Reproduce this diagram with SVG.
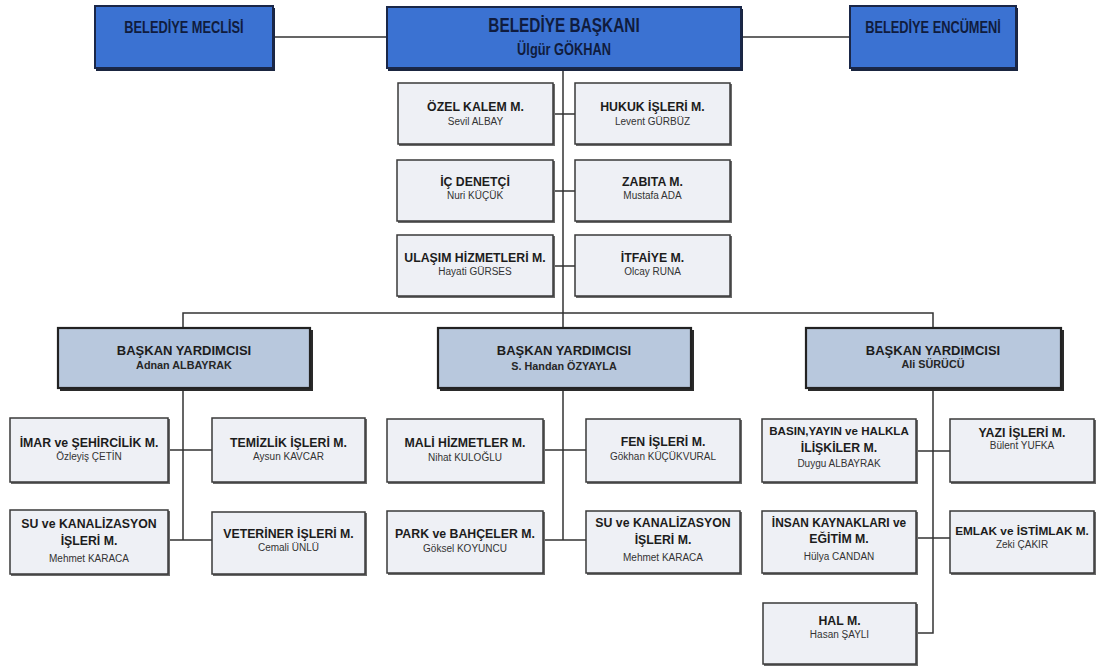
<svg xmlns="http://www.w3.org/2000/svg" width="1100" height="667" viewBox="0 0 1100 667">
<style>
text{font-family:"Liberation Sans",Arial,sans-serif;text-anchor:middle}
.top{fill:#3b72d2;stroke:#1a2748;stroke-width:2}
.topsh{fill:#1a2540}
.vp{fill:#b8c8dd;stroke:#222;stroke-width:2.2}
.vpsh{fill:#2a2a2a}
.st{fill:#eef0f5;stroke:#3a3a3a;stroke-width:1.5}
.stsh{fill:#6a6a6a}
.tt{font-weight:bold;font-size:12.8px;fill:#101c3e}
.tn{font-weight:bold;font-size:12.8px;fill:#101c3e}
.h{font-weight:bold;font-size:12.3px;fill:#1c1c1c}
.n{font-size:10px;fill:#333}
.vh{font-weight:bold;font-size:13px;fill:#1c1c1c}
.vn{font-weight:bold;font-size:10.8px;fill:#262626}
.c{fill:none;stroke:#333;stroke-width:1.5}
</style>
<g id="connectors">
<path class="c" d="M273 37H387M741 37H850"/>
<path class="c" d="M563 68V313M553 114H575M553 191H575M553 266H575"/>
<path class="c" d="M183 328V313H933V328M563 313V328"/>
<path class="c" d="M183 388V540M168 450H212M168 540H212"/>
<path class="c" d="M563 388V540M543 450H586M543 540H586"/>
<path class="c" d="M933 388V633H916M916 451H950M916 538H950"/>
</g>
<g id="meclis">
<rect class="topsh" x="96" y="8" width="179" height="63"/>
<rect class="top" x="95" y="6" width="178" height="62"/>
<text class="tt" transform="translate(184,33) scale(1,1.3)">BELEDİYE MECLİSİ</text>
</g>
<g id="baskan">
<rect class="topsh" x="388" y="9" width="355" height="62"/>
<rect class="top" x="387" y="7" width="354" height="61"/>
<text class="tt" style="font-size:15.4px" transform="translate(564,32) scale(1,1.3)">BELEDİYE BAŞKANI</text>
<text class="tn" transform="translate(564,55) scale(1,1.3)">Ülgür GÖKHAN</text>
</g>
<g id="encumen">
<rect class="topsh" x="851" y="8" width="167" height="63"/>
<rect class="top" x="850" y="6" width="166" height="62"/>
<text class="tt" transform="translate(933,33) scale(1,1.3)">BELEDİYE ENCÜMENİ</text>
</g>
<g id="ozel-kalem">
<rect class="stsh" x="399" y="84" width="156" height="62"/>
<rect class="st" x="398" y="83" width="155" height="61"/>
<text class="h" x="475.5" y="111">ÖZEL KALEM M.</text>
<text class="n" x="475.5" y="125">Sevil ALBAY</text>
</g>
<g id="hukuk">
<rect class="stsh" x="576" y="84" width="156" height="62"/>
<rect class="st" x="575" y="83" width="155" height="61"/>
<text class="h" x="652.5" y="111">HUKUK İŞLERİ M.</text>
<text class="n" x="652.5" y="125">Levent GÜRBÜZ</text>
</g>
<g id="ic-denetci">
<rect class="stsh" x="398" y="161" width="157" height="62"/>
<rect class="st" x="397" y="160" width="156" height="61"/>
<text class="h" x="475" y="186">İÇ DENETÇİ</text>
<text class="n" x="475" y="199">Nuri KÜÇÜK</text>
</g>
<g id="zabita">
<rect class="stsh" x="576" y="161" width="156" height="62"/>
<rect class="st" x="575" y="160" width="155" height="61"/>
<text class="h" x="652.5" y="186">ZABITA M.</text>
<text class="n" x="652.5" y="199">Mustafa ADA</text>
</g>
<g id="ulasim">
<rect class="stsh" x="398" y="236" width="157" height="62"/>
<rect class="st" x="397" y="235" width="156" height="61"/>
<text class="h" x="475" y="262">ULAŞIM HİZMETLERİ M.</text>
<text class="n" x="475" y="275">Hayati GÜRSES</text>
</g>
<g id="itfaiye">
<rect class="stsh" x="576" y="236" width="156" height="62"/>
<rect class="st" x="575" y="235" width="155" height="61"/>
<text class="h" x="652.5" y="262">İTFAİYE M.</text>
<text class="n" x="652.5" y="275">Olcay RUNA</text>
</g>
<g id="vp-albayrak">
<rect class="vpsh" x="60" y="330" width="253" height="61"/>
<rect class="vp" x="58" y="328" width="252" height="60"/>
<text class="vh" x="184" y="355">BAŞKAN YARDIMCISI</text>
<text class="vn" x="184" y="369">Adnan ALBAYRAK</text>
</g>
<g id="vp-ozyayla">
<rect class="vpsh" x="440" y="330" width="254" height="61"/>
<rect class="vp" x="438" y="328" width="253" height="60"/>
<text class="vh" x="564" y="355">BAŞKAN YARDIMCISI</text>
<text class="vn" x="564" y="370">S. Handan ÖZYAYLA</text>
</g>
<g id="vp-surucu">
<rect class="vpsh" x="808" y="330" width="256" height="61"/>
<rect class="vp" x="806" y="328" width="255" height="60"/>
<text class="vh" x="933" y="355">BAŞKAN YARDIMCISI</text>
<text class="vn" x="933" y="368">Ali SÜRÜCÜ</text>
</g>
<g id="imar">
<rect class="stsh" x="11" y="419" width="159" height="65"/>
<rect class="st" x="10" y="418" width="158" height="64"/>
<text class="h" x="89" y="447">İMAR ve ŞEHİRCİLİK M.</text>
<text class="n" x="89" y="460">Özleyiş ÇETİN</text>
</g>
<g id="temizlik">
<rect class="stsh" x="213" y="419" width="154" height="65"/>
<rect class="st" x="212" y="418" width="153" height="64"/>
<text class="h" x="288.5" y="447">TEMİZLİK İŞLERİ M.</text>
<text class="n" x="288.5" y="460">Aysun KAVCAR</text>
</g>
<g id="su-kanal-1">
<rect class="stsh" x="11" y="511" width="159" height="65"/>
<rect class="st" x="10" y="510" width="158" height="64"/>
<text class="h" x="89" y="528">SU ve KANALİZASYON</text>
<text class="h" x="89" y="545">İŞLERİ M.</text>
<text class="n" x="89" y="562">Mehmet KARACA</text>
</g>
<g id="veteriner">
<rect class="stsh" x="213" y="513" width="154" height="63"/>
<rect class="st" x="212" y="512" width="153" height="62"/>
<text class="h" x="288.5" y="538">VETERİNER İŞLERİ M.</text>
<text class="n" x="288.5" y="551">Cemali ÜNLÜ</text>
</g>
<g id="mali">
<rect class="stsh" x="388" y="420" width="157" height="64"/>
<rect class="st" x="387" y="419" width="156" height="63"/>
<text class="h" x="465" y="447">MALİ HİZMETLER M.</text>
<text class="n" x="465" y="461">Nihat KULOĞLU</text>
</g>
<g id="fen">
<rect class="stsh" x="587" y="420" width="155" height="64"/>
<rect class="st" x="586" y="419" width="154" height="63"/>
<text class="h" x="663" y="446">FEN İŞLERİ M.</text>
<text class="n" x="663" y="460">Gökhan KÜÇÜKVURAL</text>
</g>
<g id="park">
<rect class="stsh" x="388" y="512" width="157" height="63"/>
<rect class="st" x="387" y="511" width="156" height="62"/>
<text class="h" x="465" y="538">PARK ve BAHÇELER M.</text>
<text class="n" x="465" y="552">Göksel KOYUNCU</text>
</g>
<g id="su-kanal-2">
<rect class="stsh" x="587" y="512" width="155" height="63"/>
<rect class="st" x="586" y="511" width="154" height="62"/>
<text class="h" x="663" y="527">SU ve KANALİZASYON</text>
<text class="h" x="663" y="544">İŞLERİ M.</text>
<text class="n" x="663" y="561">Mehmet KARACA</text>
</g>
<g id="basin">
<rect class="stsh" x="763" y="420" width="155" height="64"/>
<rect class="st" x="762" y="419" width="154" height="63"/>
<text class="h" style="font-size:11.6px" x="839" y="435">BASIN,YAYIN ve HALKLA</text>
<text class="h" x="839" y="452">İLİŞKİLER M.</text>
<text class="n" x="839" y="467">Duygu ALBAYRAK</text>
</g>
<g id="yazi">
<rect class="stsh" x="951" y="420" width="145" height="64"/>
<rect class="st" x="950" y="419" width="144" height="63"/>
<text class="h" x="1022" y="437">YAZI İŞLERİ M.</text>
<text class="n" x="1022" y="449">Bülent YUFKA</text>
</g>
<g id="insan">
<rect class="stsh" x="763" y="512" width="155" height="63"/>
<rect class="st" x="762" y="511" width="154" height="62"/>
<text class="h" style="font-size:11.9px" x="839" y="527">İNSAN KAYNAKLARI ve</text>
<text class="h" x="839" y="543">EĞİTİM M.</text>
<text class="n" x="839" y="560">Hülya CANDAN</text>
</g>
<g id="emlak">
<rect class="stsh" x="951" y="512" width="145" height="63"/>
<rect class="st" x="950" y="511" width="144" height="62"/>
<text class="h" style="font-size:11.8px" x="1022" y="535">EMLAK ve İSTİMLAK M.</text>
<text class="n" x="1022" y="548">Zeki ÇAKIR</text>
</g>
<g id="hal">
<rect class="stsh" x="764" y="604" width="154" height="62"/>
<rect class="st" x="763" y="603" width="153" height="61"/>
<text class="h" x="839.5" y="625">HAL M.</text>
<text class="n" x="839.5" y="638">Hasan ŞAYLI</text>
</g>
</svg>
